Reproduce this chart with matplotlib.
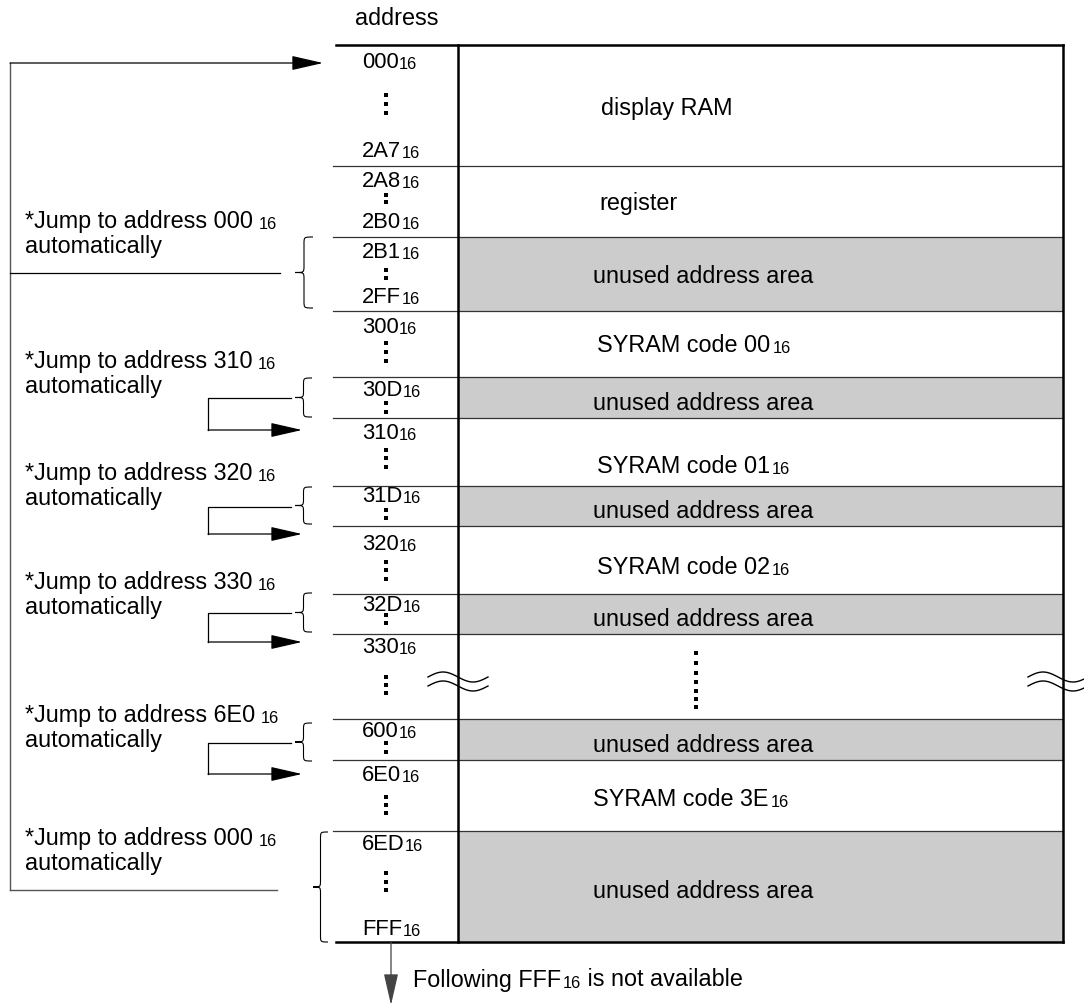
import numpy as np
import matplotlib
matplotlib.use('Agg')
import matplotlib.pyplot as plt
from matplotlib.path import Path
from matplotlib.patches import PathPatch
from matplotlib.font_manager import FontProperties

plt.rcParams['font.family'] = ['Liberation Sans', 'DejaVu Sans']

# memory map rows (pixel y of the row edges, top to bottom)
row_edges = [45, 166, 237, 311, 377, 418, 486, 526, 594, 634, 719, 760, 831, 942]
row_shaded = [0, 0, 1, 0, 1, 0, 1, 0, 1, 0, 1, 0, 1]
row_names = ["display RAM", "register", "unused address area", "SYRAM code 00",
             "unused address area", "SYRAM code 01", "unused address area",
             "SYRAM code 02", "unused address area", "", "unused address area",
             "SYRAM code 3E", "unused address area"]
row_subs = ["", "", "", "16", "", "16", "", "16", "", "", "", "16", ""]
row_x = [601, 599, 593, 597, 593, 597, 593, 597, 593, 0, 593, 593, 593]
row_base = [115, 210, 283, 352, 410, 473, 518, 574, 626, 0, 752, 806, 898]

# address column
addr_labels = ["000", "2A7", "2A8", "2B0", "2B1", "2FF", "300", "30D", "310",
               "31D", "320", "32D", "330", "600", "6E0", "6ED", "FFF"]
addr_base = [68, 157, 187, 228, 258, 303, 333, 396, 439, 502, 550, 611, 653,
             737, 781, 850, 935]
addr_dots = [[95, 104, 113], [195, 202], [270, 278], [343, 352, 361], [403, 412],
             [450, 458, 467], [510, 518], [562, 570, 579], [615, 623],
             [677, 685, 693], [743, 752], [797, 805, 813], [873, 882, 890]]
gap_dots = [653, 663, 673, 682, 691, 699, 707]

# jump notes on the left
jump_targets = ["000", "310", "320", "330", "6E0", "000"]
jump_base = [228, 368, 480, 589, 722, 845]
# braces: top, bottom, tip x, back x
braces = [(237, 308, 295, 313), (378, 417, 295, 312), (487, 524, 295, 312),
          (593, 632, 295, 312), (723, 761, 295, 312), (832, 942, 313, 328)]
loop_from = [398, 507, 613, 743]
loop_to = [430, 534, 642, 774]

X_LEFT, X_DIV, X_RIGHT = 336, 458, 1063
FS, FS_SUB = 16.8, 11.8
FS_ADDR = 15.8

fig = plt.figure(figsize=(10.84, 10.06), dpi=100)
ax = fig.add_axes([0, 0, 1, 1])
ax.set_xlim(0, 1084)
ax.set_ylim(1006, 0)
ax.axis('off')
renderer = fig.canvas.get_renderer()


def descent_pt(size):
    fp = FontProperties(family='Liberation Sans', size=size)
    _, _, d = renderer.get_text_width_height_descent("lp", fp, ismath=False)
    return d * 72 / fig.dpi


def label(x, y, main, sub='', size=FS, subsize=FS_SUB, gap=1.0):
    t = ax.text(x, y, main, fontsize=size, va='baseline', ha='left')
    if sub:
        t = ax.annotate(sub, xy=(1, 0), xycoords=t,
                        xytext=(gap, descent_pt(size) - 0.6),
                        textcoords='offset points', fontsize=subsize,
                        va='baseline', ha='left')
    return t


def arrow(x0, y0, x1, y1, color='k'):
    ax.annotate('', xy=(x1, y1), xytext=(x0, y0),
                arrowprops=dict(arrowstyle='-|>,head_length=1.4,head_width=0.32',
                                color=color, lw=0.9, shrinkA=0, shrinkB=0,
                                mutation_scale=14))


def brace(y0, y1, xt, xb):
    ym = (y0 + y1) / 2
    xm = (xt + xb) / 2
    r = 7
    verts = [(xb, y0), (xm, y0), (xm, y0), (xm, y0 + r),
             (xm, ym - r), (xm, ym), (xm, ym), (xt, ym),
             (xm, ym), (xm, ym), (xm, ym + r),
             (xm, y1 - r), (xm, y1), (xm, y1), (xb, y1)]
    codes = [Path.MOVETO, Path.CURVE4, Path.CURVE4, Path.CURVE4,
             Path.LINETO, Path.CURVE4, Path.CURVE4, Path.CURVE4,
             Path.CURVE4, Path.CURVE4, Path.CURVE4,
             Path.LINETO, Path.CURVE4, Path.CURVE4, Path.CURVE4]
    ax.add_patch(PathPatch(Path(verts, codes), fill=False, lw=0.8, ec='k'))


# shaded rows and row lines
for i in range(len(row_names)):
    top, bot = row_edges[i], row_edges[i + 1]
    if row_shaded[i]:
        ax.fill_between([X_DIV, X_RIGHT], top, bot, color='#cccccc', lw=0)
    if row_names[i]:
        label(row_x[i], row_base[i], row_names[i], row_subs[i], gap=1.5)
for y in row_edges[1:-1]:
    ax.plot([333, X_RIGHT], [y, y], color='#333333', lw=0.9)
ax.plot([X_LEFT, X_RIGHT], [row_edges[0]] * 2, color='k', lw=1.8)
ax.plot([X_LEFT, X_RIGHT], [row_edges[-1]] * 2, color='k', lw=1.8)
ax.plot([X_DIV, X_DIV], [row_edges[0], row_edges[-1]], color='k', lw=1.8)
ax.plot([X_RIGHT, X_RIGHT], [row_edges[0], row_edges[-1]], color='k', lw=1.8)

# address labels and dots
for s, y in zip(addr_labels, addr_base):
    label(362, y, s, '16', size=FS_ADDR, subsize=FS_SUB, gap=0.3)
for grp in addr_dots:
    ax.plot([386] * len(grp), grp, 's', color='k', ms=2.6, mew=0)
ax.plot([696] * len(gap_dots), gap_dots, 's', color='k', ms=2.6, mew=0)

# break marks
t = np.linspace(0, 1, 60)
for x0 in [428, 1028]:
    for yc in [677, 686]:
        ax.plot(x0 + 60 * t, yc - 5 * np.sin(2 * np.pi * t), color='k', lw=1.0)

ax.text(355, 25, "address", fontsize=FS, va='baseline', ha='left')

# jump notes
for tgt, y in zip(jump_targets, jump_base):
    label(25, y, "*Jump to address " + tgt, '16', gap=4)
    ax.text(25, y + 25, "automatically", fontsize=FS, va='baseline', ha='left')

for b in braces:
    brace(*b)

# outer loop back to 000
ax.plot([10, 10], [63, 890], color='#555555', lw=1.0)
ax.plot([10, 277], [890, 890], color='#555555', lw=1.0)
ax.plot([10, 280], [273, 273], color='k', lw=0.9)
arrow(10, 63, 323, 63)

# small loops
for y0, y1 in zip(loop_from, loop_to):
    ax.plot([291, 208, 208], [y0, y0, y1], color='k', lw=0.9)
    arrow(208, y1, 302, y1)

# bottom arrow and note
arrow(391, 942, 391, 1005, color='#444444')
t2 = label(413, 987, "Following FFF", '16', gap=1)
ax.annotate(' is not available', xy=(1, 0), xycoords=t2, xytext=(0, 0),
            textcoords='offset points', fontsize=FS, va='bottom', ha='left')

plt.savefig('out.png', dpi=100)
